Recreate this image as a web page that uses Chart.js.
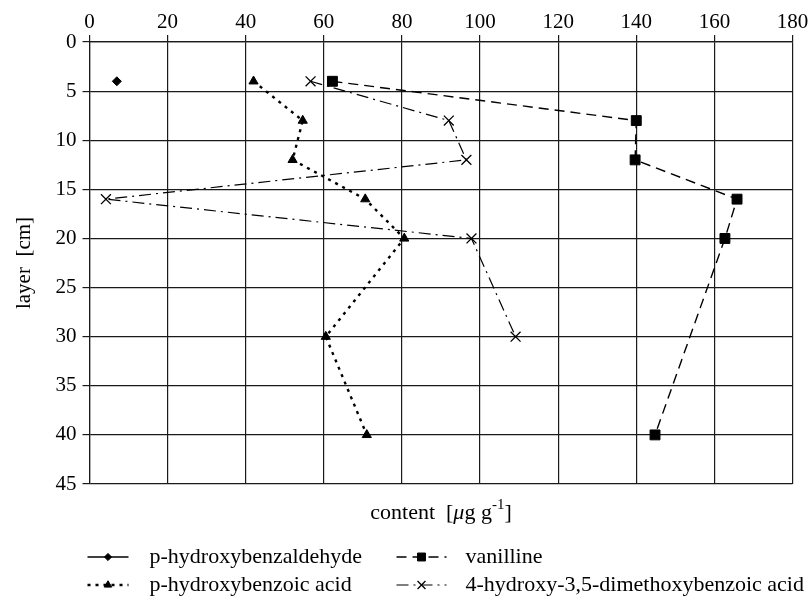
<!DOCTYPE html>
<html lang="en">
<head>
    <meta charset="UTF-8">
    <title>Phenolic compounds by soil layer</title>
    <script src="https://cdn.jsdelivr.net/npm/chart.js"></script>
    <style>
        body {
            margin: 0;
            background: #fff;
        }
        #chart-container {
            width: 811px;
            height: 603px;
        }
    </style>
</head>
<body>
    <div id="chart-container">
        <canvas id="layerChart" width="811" height="603"></canvas>
    </div>

    <script>
        // Depth of each sampled layer [cm] and content [µg/g] per compound
        const aldehydeDepth = [4];
        const aldehydeContent = [7];

        const vanillineDepth = [4, 8, 12, 16, 20, 40];
        const vanillineContent = [62.2, 140, 139.7, 165.8, 162.7, 144.8];

        const benzoicDepth = [4, 8, 12, 16, 20, 30, 40];
        const benzoicContent = [42, 54.6, 52, 70.6, 80.6, 60.5, 71];

        const syringicDepth = [4, 8, 12, 16, 20, 30];
        const syringicContent = [56.6, 92, 96.5, 4.2, 97.8, 109.1];

        const contentTicks = [0, 20, 40, 60, 80, 100, 120, 140, 160, 180];
        const layerTicks = [0, 5, 10, 15, 20, 25, 30, 35, 40, 45];

        const SERIF = '"Liberation Serif", "Times New Roman", serif';

        function toPoints(depths, values) {
            return values.map((v, i) => ({ x: v, y: depths[i] }));
        }

        function series(label, depths, values, style) {
            return Object.assign({
                label,
                data: toPoints(depths, values),
                showLine: true,
                borderColor: '#000',
                backgroundColor: '#000',
                pointBackgroundColor: '#000',
                pointBorderColor: '#000',
                pointBorderWidth: 1,
                pointHoverRadius: 0
            }, style);
        }

        const datasets = [
            series('p-hydroxybenzaldehyde', aldehydeDepth, aldehydeContent, {
                borderWidth: 1.3, borderDash: [], pointStyle: 'rectRot', pointRadius: 4.5
            }),
            series('vanilline', vanillineDepth, vanillineContent, {
                borderWidth: 1.4, borderDash: [10, 6], pointStyle: 'rect', pointRadius: 7
            }),
            series('p-hydroxybenzoic acid', benzoicDepth, benzoicContent, {
                borderWidth: 2.4, borderDash: [3, 5], pointStyle: 'triangle', pointRadius: 5.3
            }),
            series('4-hydroxy-3,5-dimethoxybenzoic acid', syringicDepth, syringicContent, {
                borderWidth: 1.2, borderDash: [12, 5, 2, 5], pointStyle: 'crossRot', pointRadius: 7,
                pointBorderWidth: 1.3
            })
        ];

        // axis title "content [µg g-1]" with italic mu and superscript
        function drawContentTitle(ctx, cx, cy) {
            const normal = '22px ' + SERIF;
            const parts = [
                { t: 'content  [', f: normal, dy: 0 },
                { t: '\u03bc', f: 'italic 22px ' + SERIF, dy: 0 },
                { t: 'g g', f: normal, dy: 0 },
                { t: '-1', f: '15px ' + SERIF, dy: -8 },
                { t: ']', f: normal, dy: 0 }
            ];
            let total = 0;
            parts.forEach(p => { ctx.font = p.f; p.w = ctx.measureText(p.t).width; total += p.w; });
            let x = cx - total / 2;
            ctx.textAlign = 'left';
            ctx.textBaseline = 'middle';
            parts.forEach(p => {
                ctx.font = p.f;
                ctx.fillText(p.t, x, cy + p.dy);
                x += p.w;
            });
        }

        const bottomNotes = {
            id: 'bottomNotes',
            afterDraw(chart) {
                const { ctx, chartArea: area } = chart;
                ctx.save();
                ctx.fillStyle = '#000';
                ctx.strokeStyle = '#000';
                drawContentTitle(ctx, (area.left + area.right) / 2, area.bottom + 29);

                // two-column legend: sample line with marker, then label
                const cols = [
                    { x: area.left - 2, w: 41, text: area.left + 60 },
                    { x: area.left + 307, w: 50, text: area.left + 376 }
                ];
                const rows = [area.bottom + 73, area.bottom + 101];
                chart.data.datasets.forEach((ds, i) => {
                    const col = cols[i % 2];
                    const y = rows[Math.floor(i / 2)];
                    ctx.lineWidth = ds.borderWidth;
                    ctx.setLineDash(ds.borderDash);
                    ctx.beginPath();
                    ctx.moveTo(col.x, y);
                    ctx.lineTo(col.x + col.w, y);
                    ctx.stroke();
                    ctx.setLineDash([]);
                    ctx.lineWidth = ds.pointBorderWidth;
                    Chart.helpers.drawPoint(ctx, {
                        pointStyle: ds.pointStyle,
                        radius: ds.pointRadius * 0.8,
                        rotation: 0,
                        borderWidth: ds.pointBorderWidth
                    }, col.x + col.w / 2, y);
                    ctx.font = '22px ' + SERIF;
                    ctx.textAlign = 'left';
                    ctx.textBaseline = 'middle';
                    ctx.fillText(ds.label, col.text, y);
                });
                ctx.restore();
            }
        };

        const gridStyle = {
            color: '#1a1a1a',
            lineWidth: 1.2,
            tickLength: 7
        };

        new Chart(document.getElementById('layerChart'), {
            type: 'scatter',
            data: { datasets },
            plugins: [bottomNotes],
            options: {
                responsive: false,
                animation: false,
                layout: { padding: { top: 0, right: 18.5, bottom: 119, left: 0 } },
                plugins: {
                    legend: { display: false },
                    tooltip: { enabled: false }
                },
                scales: {
                    x: {
                        type: 'linear',
                        position: 'top',
                        min: 0,
                        max: 180,
                        afterBuildTicks: s => { s.ticks = contentTicks.map(v => ({ value: v })); },
                        afterFit: s => { s.height = 42; },
                        grid: gridStyle,
                        border: { color: '#1a1a1a', width: 1.2 },
                        ticks: {
                            color: '#000',
                            padding: 0,
                            maxRotation: 0,
                            font: { family: SERIF, size: 21 }
                        }
                    },
                    y: {
                        type: 'linear',
                        reverse: true,
                        min: 0,
                        max: 45,
                        afterBuildTicks: s => { s.ticks = layerTicks.map(v => ({ value: v })); },
                        afterFit: s => { s.width = 89.5; },
                        grid: gridStyle,
                        border: { color: '#1a1a1a', width: 1.2 },
                        ticks: {
                            color: '#000',
                            padding: 6,
                            font: { family: SERIF, size: 21 }
                        },
                        title: {
                            display: true,
                            text: 'layer  [cm]',
                            color: '#000',
                            padding: { top: 12, bottom: 0 },
                            font: { family: SERIF, size: 21 }
                        }
                    }
                }
            }
        });
    </script>
</body>
</html>
